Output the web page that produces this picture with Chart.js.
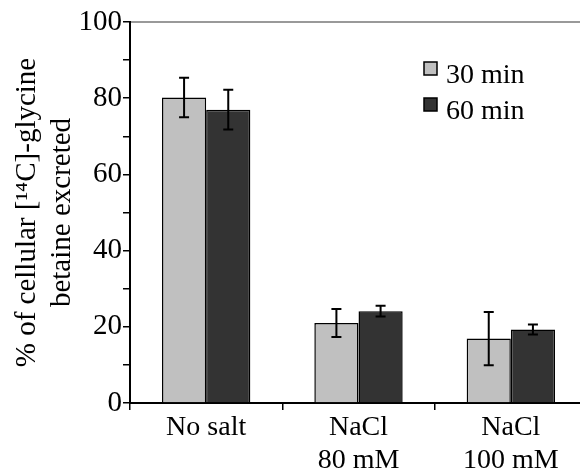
<!DOCTYPE html>
<html>
<head>
<meta charset="utf-8">
<script src="https://cdn.jsdelivr.net/npm/chart.js@4"></script>
<style>
  html, body { margin: 0; padding: 0; background: #fff; overflow: hidden; }
  #wrap { width: 590px; height: 476px; }
</style>
</head>
<body>
<div id="wrap"><canvas id="chart"></canvas></div>
<script>
const categories = [["No salt"], ["NaCl", "80 mM"], ["NaCl", "100 mM"]];
const min30 = [80.2, 21.0, 16.9];
const min30Err = [5.2, 3.7, 7.0];
const min60 = [77.0, 24.1, 19.3];
const min60Err = [5.2, 1.4, 1.3];
const yTicks = [0, 20, 40, 60, 80, 100];

const FONT = "Liberation Serif";

// error bars drawn on top of each bar
const errorBars = {
  id: "errorBars",
  afterDatasetsDraw(chart) {
    const ctx = chart.ctx;
    const y = chart.scales.y;
    ctx.save();
    ctx.strokeStyle = "#000";
    ctx.lineWidth = 2;
    chart.data.datasets.forEach((ds, di) => {
      const meta = chart.getDatasetMeta(di);
      meta.data.forEach((bar, i) => {
        const v = ds.data[i], e = ds.errors[i];
        const top = y.getPixelForValue(v + e);
        const bot = y.getPixelForValue(v - e);
        ctx.beginPath();
        ctx.moveTo(bar.x, top); ctx.lineTo(bar.x, bot);
        ctx.moveTo(bar.x - 5, top); ctx.lineTo(bar.x + 5, top);
        ctx.moveTo(bar.x - 5, bot); ctx.lineTo(bar.x + 5, bot);
        ctx.stroke();
      });
    });
    ctx.restore();
  }
};

// legend inside the plot, top right
const boxLegend = {
  id: "boxLegend",
  afterDraw(chart) {
    const ctx = chart.ctx;
    ctx.save();
    ctx.font = "28px '" + FONT + "'";
    ctx.textBaseline = "alphabetic";
    chart.data.datasets.forEach((ds, i) => {
      const bx = 424, by = 62 + i * 36;
      ctx.fillStyle = ds.backgroundColor;
      ctx.fillRect(bx, by, 13, 13);
      ctx.strokeStyle = "#000";
      ctx.lineWidth = 1.5;
      ctx.strokeRect(bx, by, 13, 13);
      ctx.fillStyle = "#000";
      ctx.fillText(ds.label, 446, by + 21);
    });
    ctx.restore();
  }
};

function draw() {
  new Chart(document.getElementById("chart"), {
    type: "bar",
    data: {
      labels: categories,
      datasets: [
        { label: "30 min", data: min30, errors: min30Err, backgroundColor: "#c0c0c0",
          borderColor: "#000", borderWidth: 1.5, categoryPercentage: 0.58, barPercentage: 1 },
        { label: "60 min", data: min60, errors: min60Err, backgroundColor: "#333333",
          borderColor: "#000", borderWidth: 1.5, categoryPercentage: 0.58, barPercentage: 1 }
      ]
    },
    options: {
      responsive: true,
      maintainAspectRatio: false,
      animation: false,
      layout: { padding: { top: 22, right: 3, left: 0, bottom: 0 } },
      plugins: { legend: { display: false }, tooltip: { enabled: false } },
      scales: {
        x: {
          grid: { offset: true, drawOnChartArea: false, color: "#000", tickLength: 7, lineWidth: 1.5 },
          border: { color: "#000", width: 2 },
          ticks: { color: "#000", font: { family: FONT, size: 28, lineHeight: 1.15 }, padding: 2, maxRotation: 0 },
          afterFit(axis) { axis.height = 73; }
        },
        x2: {
          position: "top",
          grid: { display: false, drawTicks: false },
          border: { color: "#999", width: 2 },
          ticks: { display: false },
          afterFit(axis) { axis.height = 0; }
        },
        y: {
          min: 0, max: 100,
          grid: { drawOnChartArea: false, color: "#000", tickLength: 7, lineWidth: 1.5 },
          border: { color: "#000", width: 2 },
          ticks: {
            stepSize: 10, color: "#000", padding: 1,
            font: { family: FONT, size: 29 },
            callback: (v) => (yTicks.includes(v) ? v : "")
          },
          title: {
            display: true,
            text: ["% of cellular [\u00b9\u2074C]-glycine", "betaine excreted"],
            color: "#000",
            font: { family: FONT, size: 29, lineHeight: 1.2 },
            padding: { top: 10, bottom: 0 }
          },
          afterFit(axis) { axis.width = 130; }
        }
      }
    }
  ,
    plugins: [errorBars, boxLegend]
  });
}

document.fonts.load("28px 'Liberation Serif'").then(draw, draw);
</script>
</body>
</html>
